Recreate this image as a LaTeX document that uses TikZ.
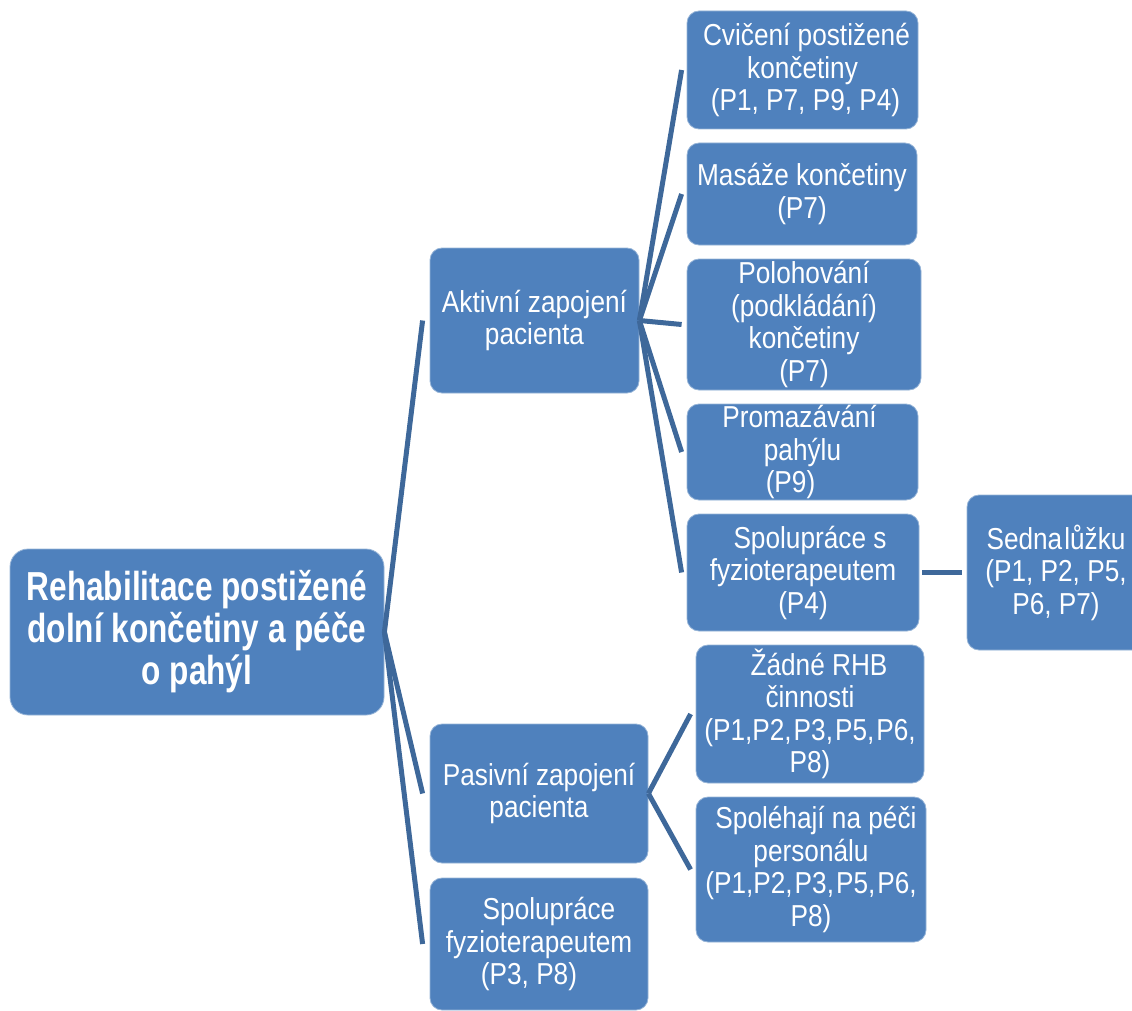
\documentclass[tikz,border=0pt]{standalone}
\usepackage{fontspec}
\setmainfont{Liberation Sans}[FakeStretch=0.865]
\newfontfamily\headfont{Liberation Sans}[FakeStretch=0.78]
\definecolor{boxblue}{RGB}{79,129,189}
\definecolor{boxedge}{RGB}{150,180,215}
\definecolor{linkblue}{RGB}{62,104,154}
\tikzset{
  box/.style={rectangle, rounded corners=12pt, fill=boxblue, draw=boxedge,
    line width=0.8pt, text=white, align=center, inner sep=0pt,
    font=\fontsize{30.3}{32.5}\selectfont},
  headbox/.style={box, rounded corners=18pt,
    font=\headfont\bfseries\fontsize{40.5}{42}\selectfont},
  link/.style={draw=linkblue, line width=5pt},
}
\begin{document}
\begin{tikzpicture}[x=1pt,y=-1pt]
\useasboundingbox (0,0) rectangle (1132,1011);
\clip (0,0) rectangle (1132,1011);

% root
\node[headbox, minimum width=374pt, minimum height=166pt] (root) at (197,632)
  {Rehabilitace postižené\\dolní končetiny a péče\\o pahýl};

% second level
\node[box, minimum width=209pt, minimum height=145pt] (akt) at (534.5,320.5)
  {Aktivní zapojení\\pacienta};
\node[box, minimum width=218pt, minimum height=139pt] (pas) at (539,793.5)
  {Pasivní zapojení\\pacienta};
\node[box, minimum width=218pt, minimum height=132pt] (fyz) at (539,944)
  {\hspace*{20pt}Spolupráce\\fyzioterapeutem\\(P3, P8)\hspace*{20pt}};

% children of the active branch
\node[box, minimum width=231pt, minimum height=118pt] (cvi) at (802.5,70)
  {\hspace*{8pt}Cvičení postižené\\končetiny\\\hspace*{6pt}(P1, P7, P9, P4)};
\node[box, minimum width=230pt, minimum height=102pt] (mas) at (802,194)
  {Masáže končetiny\\(P7)};
\node[box, minimum width=234pt, minimum height=131pt] (pol) at (804,324.5)
  {Polohování\\(podkládání)\\končetiny\\(P7)};
\node[box, minimum width=231pt, minimum height=96pt] (pro) at (802.5,452)
  {Promazávání\hspace*{6pt}\\pahýlu\\(P9)\hspace*{24pt}};
\node[box, minimum width=232pt, minimum height=117pt] (sps) at (803,572.5)
  {\hspace*{14pt}Spolupráce s\\fyzioterapeutem\\(P4)};
\node[box, minimum width=178pt, minimum height=155pt] (sed) at (1056,572.5)
  {Sedna\hspace{2pt}lůžku\\(P1, P2, P5,\\P6, P7)};

% children of the passive branch
\node[box, minimum width=228pt, minimum height=138pt] (zad) at (810,714)
  {\hspace*{18pt}Žádné RHB\\činnosti\\(P1,P2,\kern2pt P3,\kern2pt P5,\kern2pt P6,\\P8)};
\node[box, minimum width=230pt, minimum height=145pt] (spo) at (811,869.5)
  {\hspace*{10pt}Spoléhají na péči\\personálu\\(P1,P2,\kern2pt P3,\kern2pt P5,\kern2pt P6,\\P8)};

% connectors
\foreach \c in {akt,pas,fyz}
  \draw[link] (root.east) -- ([xshift=-7pt]\c.west);
\foreach \c in {cvi,mas,pol,pro,sps}
  \draw[link] (akt.east) -- ([xshift=-5pt]\c.west);
\foreach \c in {zad,spo}
  \draw[link] (pas.east) -- ([xshift=-5pt]\c.west);
\draw[link] ([xshift=3pt]sps.east) -- ([xshift=-5pt]sed.west);
\end{tikzpicture}
\end{document}
